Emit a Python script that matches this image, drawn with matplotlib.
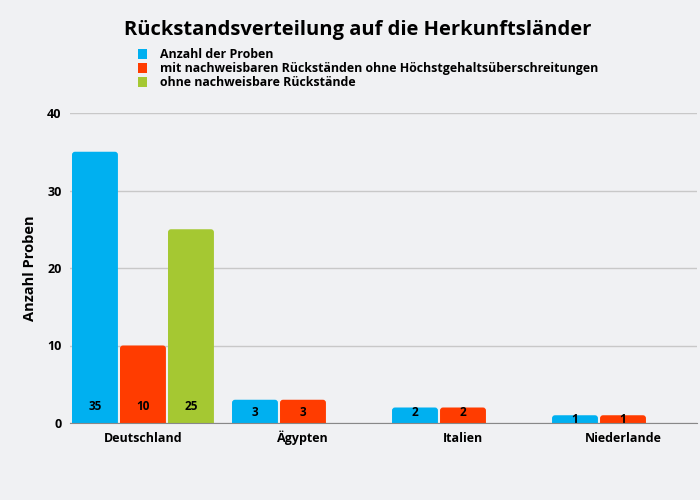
import matplotlib
matplotlib.use("Agg")
import matplotlib.pyplot as plt
from matplotlib.patches import Patch, FancyBboxPatch
import numpy as np

plt.rcParams['font.family'] = ['Open Sans', 'DejaVu Sans']

categories = ["Deutschland", "Ägypten", "Italien", "Niederlande"]
series_names = [
    "Anzahl der Proben",
    "mit nachweisbaren Rückständen ohne Höchstgehaltsüberschreitungen",
    "ohne nachweisbare Rückstände",
]
anzahl = [35, 3, 2, 1]
mit_rueck = [10, 3, 2, 1]
ohne_rueck = [25, 0, 0, 0]
colors = ["#00b0f0", "#ff3c00", "#a5c832"]
bg = "#f0f1f3"

fig = plt.figure(figsize=(7, 5), dpi=100, facecolor=bg)
ax = fig.add_axes([70/700, 1-423/500, 627/700, 310/500], facecolor=bg)

x = np.arange(len(categories))
slot = 0.3
bw = 0.287
x_px = 160.0
y_px = 310/40
r_px = 3.0
for i, (vals, c) in enumerate(zip([anzahl, mit_rueck, ohne_rueck], colors)):
    xs = x + (i-1)*slot
    for xi, v in zip(xs, vals):
        if v <= 0:
            continue
        rs = r_px / x_px
        asp = (r_px / y_px) / rs
        p = FancyBboxPatch((xi - bw/2, -1), bw, v + 1,
                           boxstyle=f"round,pad=0,rounding_size={rs}",
                           mutation_aspect=asp, facecolor=c, edgecolor='none',
                           zorder=3, clip_on=True)
        ax.add_patch(p)
        bar_px = v*y_px
        off = 16 if bar_px > 30 else (10 if bar_px > 12 else bar_px/2)
        ax.annotate(str(v), (xi, 0), xytext=(0, off*0.72), textcoords='offset points',
                    ha='center', va='center', fontsize=8.5, fontweight='bold',
                    color='black', zorder=4)

ax.set_ylim(0, 40)
ax.set_xlim(-0.456, 3.4625)
ax.set_yticks([0, 10, 20, 30, 40])
ax.set_xticks(x)
ax.set_xticklabels(categories)
ax.grid(axis='y', color='#c8c8c8', linewidth=1, zorder=0)
for s in ['top', 'right', 'left']:
    ax.spines[s].set_visible(False)
ax.spines['bottom'].set_color('#888888')
ax.spines['bottom'].set_zorder(5)
ax.tick_params(axis='both', length=0, labelsize=9)
ax.tick_params(axis='y', pad=6)
ax.tick_params(axis='x', pad=13.5)
for lab in ax.get_yticklabels():
    lab.set_fontweight('bold')
for lab in ax.get_xticklabels():
    lab.set_fontweight('bold')
    lab.set_verticalalignment('baseline')
ax.set_ylabel("Anzahl Proben", fontsize=10.5, fontweight='bold', labelpad=7)

fig.text(358/700, 1-30/500, "Rückstandsverteilung auf die Herkunftsländer",
         ha='center', va='center', fontsize=14.5, fontweight='bold')

handles = [Patch(facecolor=c, edgecolor='none') for c in colors]
leg = fig.legend(handles, series_names, loc='upper left', bbox_to_anchor=(138/700, 1-48/500),
                 frameon=False, handlelength=0.75, handleheight=0.9, handletextpad=1.0,
                 labelspacing=0.1, prop={'size': 8.9, 'weight': 'bold'}, borderaxespad=0,
                 borderpad=0)

fig.savefig("out.png", dpi=100, facecolor=bg)
